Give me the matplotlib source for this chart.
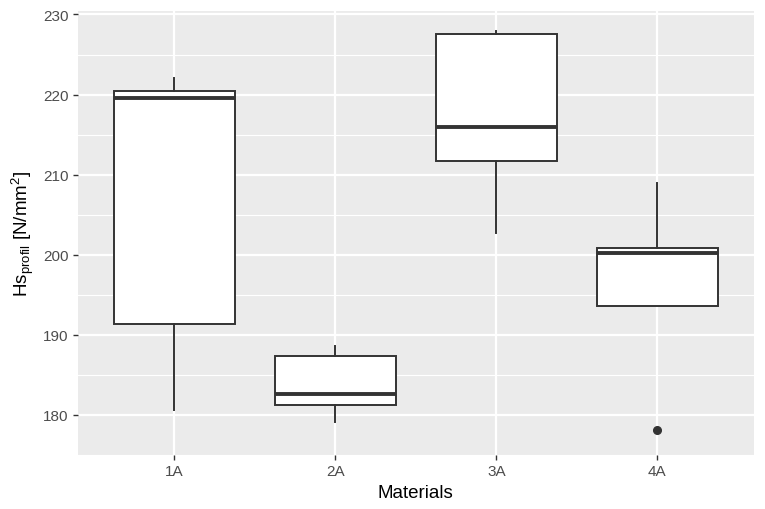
import matplotlib
matplotlib.use("Agg")
import matplotlib.pyplot as plt
import numpy as np

categories = ["1A", "2A", "3A", "4A"]
whisker_low = [180.6, 179.1, 202.7, 193.6]
q1 = [191.3, 181.2, 211.7, 193.6]
median = [219.6, 182.6, 216.0, 200.2]
q3 = [220.4, 187.3, 227.6, 200.9]
whisker_high = [222.1, 188.6, 227.9, 209.0]
outliers = [[], [], [], [178.1]]

plt.rcParams['font.family'] = ['Liberation Sans', 'DejaVu Sans']
plt.rcParams['mathtext.fontset'] = 'custom'
plt.rcParams['mathtext.rm'] = 'Liberation Sans'
plt.rcParams['mathtext.it'] = 'Liberation Sans:italic'

fig = plt.figure(figsize=(7.65, 5.10), dpi=100)
ax = fig.add_axes([0.1016, 0.1059, 0.8840, 0.8700])
ax.set_facecolor('#EBEBEB')

stats = []
for i, c in enumerate(categories):
    stats.append(dict(label=c, whislo=whisker_low[i], q1=q1[i], med=median[i],
                      q3=q3[i], whishi=whisker_high[i], fliers=outliers[i]))

pos = np.arange(1, len(categories) + 1)
ax.bxp(stats, positions=pos, widths=0.75, showcaps=False, patch_artist=True,
       boxprops=dict(facecolor='white', edgecolor='#333333', linewidth=1.4),
       medianprops=dict(color='#333333', linewidth=2.8, solid_capstyle='butt'),
       whiskerprops=dict(color='#333333', linewidth=1.4),
       flierprops=dict(marker='o', markerfacecolor='#333333', markeredgecolor='#333333',
                       markersize=5.5), zorder=3)

ax.set_xlim(0.4, 4.6)
ax.set_ylim(175.6, 230.4)
ax.set_xticks(pos)
ax.set_xticklabels(categories)
ax.set_yticks(np.arange(180, 231, 10))
ax.set_yticks(np.arange(175, 230, 10), minor=True)

ax.grid(which='major', color='white', linewidth=1.6, zorder=0)
ax.grid(which='minor', axis='y', color='white', linewidth=0.8, zorder=0)
ax.set_axisbelow(True)
for s in ax.spines.values():
    s.set_visible(False)

ax.tick_params(which='major', length=3.5, width=1.0, color='#333333',
               labelcolor='#4D4D4D', labelsize=11, pad=3)
ax.tick_params(which='minor', length=0)

ax.set_xlabel('Materials', fontsize=13.5, color='black', labelpad=4)
ax.set_ylabel(r'Hs$_{\mathrm{profil}}$ [N/mm$^{2}$]', fontsize=13.5, color='black', labelpad=5)

fig.savefig('out.png', dpi=100)
